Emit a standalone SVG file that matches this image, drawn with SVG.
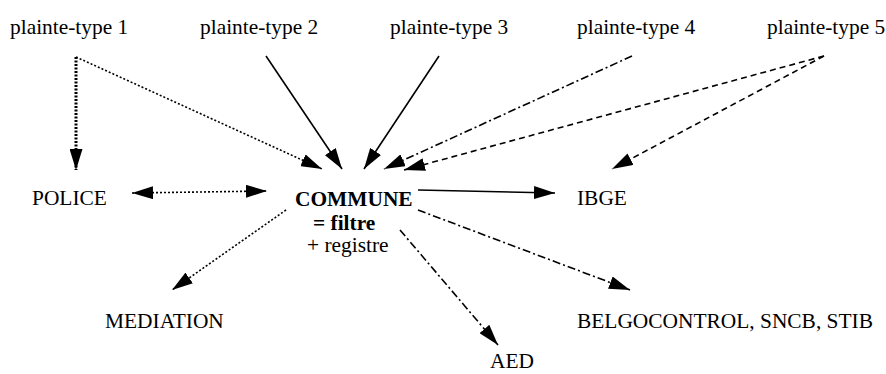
<svg xmlns="http://www.w3.org/2000/svg" width="886" height="374" viewBox="0 0 886 374" font-family="'Liberation Serif', 'Times New Roman', serif">
<style>
text{font-family:'Liberation Serif','Times New Roman',serif;font-size:21.4px;fill:#000}
.b{font-weight:bold}
.c{fill:none;stroke:#000;stroke-width:1.6}
.dot{stroke-dasharray:2 2}
.dotb{stroke-width:3;stroke-dasharray:2 1.5}
.dd{stroke-dasharray:8 3 2 3}
.da{stroke-dasharray:6 4}
</style>
<defs>
<marker id="a" markerUnits="userSpaceOnUse" markerWidth="21" markerHeight="13" refX="21" refY="6.5" orient="auto-start-reverse" viewBox="0 0 21 13">
<path d="M0,0 L21,6.5 L0,13 z" fill="#000"/>
</marker>
</defs>
<rect width="886" height="374" fill="#fff"/>
<g id="connectors">
<path class="c dotb" d="M76,57 L76,170" marker-end="url(#a)"/>
<path class="c dot" d="M76,57 L322,169" stroke-width="2.2" marker-end="url(#a)"/>
<path class="c" d="M266,56 L342,169" marker-end="url(#a)"/>
<path class="c" d="M439,56 L364,169" marker-end="url(#a)"/>
<path class="c dd" d="M632,56 L384,169" marker-end="url(#a)"/>
<path class="c da" d="M824,56 L404,170" marker-end="url(#a)"/>
<path class="c da" d="M824,56 L612,169" marker-end="url(#a)"/>
<path class="c dot" d="M132,193 L267,191" marker-start="url(#a)" marker-end="url(#a)"/>
<path class="c" d="M418,190 L555,193" marker-end="url(#a)"/>
<path class="c dd" d="M418,210 L630,290" marker-end="url(#a)"/>
<path class="c dd" d="M400,230 L498,345" marker-end="url(#a)"/>
<path class="c dot" d="M286,210 L172,290" marker-end="url(#a)"/>
</g>
<g id="pt1"><text x="10" y="34">plainte-type 1</text></g>
<g id="pt2"><text x="200" y="34">plainte-type 2</text></g>
<g id="pt3"><text x="390" y="34">plainte-type 3</text></g>
<g id="pt4"><text x="577" y="34">plainte-type 4</text></g>
<g id="pt5"><text x="767" y="34">plainte-type 5</text></g>
<g id="police"><text x="32" y="205">POLICE</text></g>
<g id="commune">
<text class="b" x="295" y="206">COMMUNE</text>
<text class="b" x="313" y="230">= filtre</text>
<text x="307" y="252">+ registre</text>
</g>
<g id="ibge"><text x="577" y="205">IBGE</text></g>
<g id="mediation"><text x="105" y="328">MEDIATION</text></g>
<g id="belgo"><text x="577" y="328">BELGOCONTROL, SNCB, STIB</text></g>
<g id="aed"><text x="490" y="368">AED</text></g>
</svg>
